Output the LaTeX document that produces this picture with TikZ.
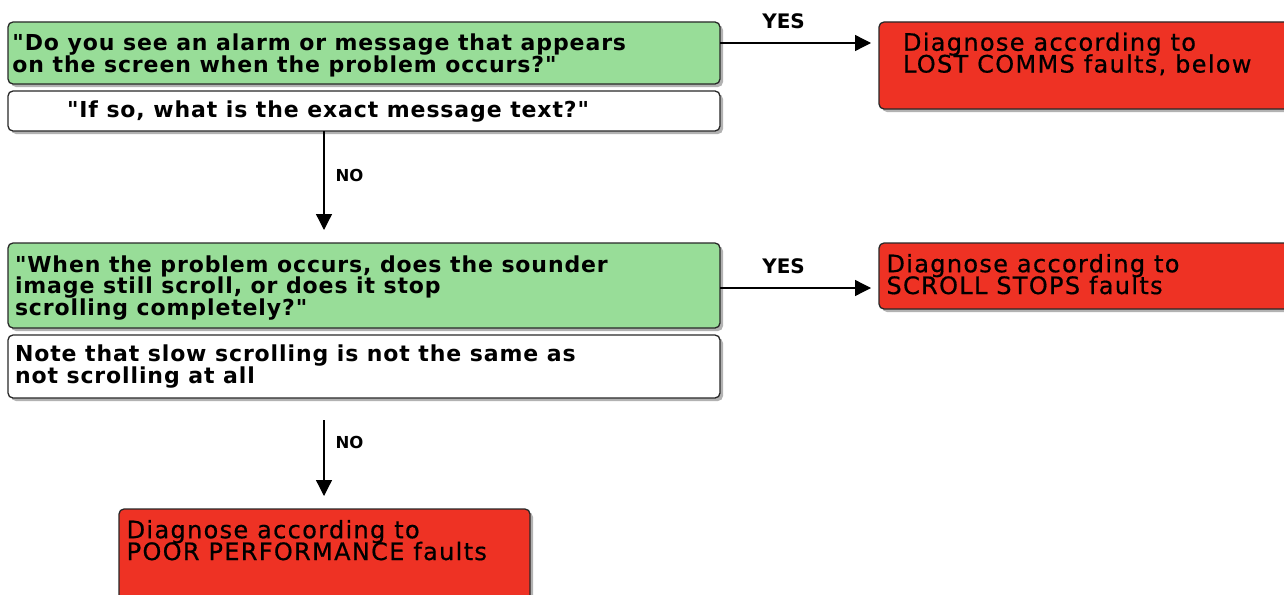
\documentclass[tikz,border=0pt]{standalone}
\usepackage{fontspec}
\setmainfont{DejaVu Sans}
\newfontfamily\qfont{DejaVu Sans}[LetterSpace=4.0]
\newfontfamily\rfont{DejaVu Sans}[LetterSpace=5.5,FakeBold=0.6]
\usetikzlibrary{shadows,arrows.meta}
\definecolor{qgreen}{RGB}{152,221,152}
\definecolor{dred}{RGB}{238,50,36}
\definecolor{edgec}{RGB}{40,40,40}
\newcommand{\bxt}[5]{\parbox[c][#1][t]{#2}{\lineskiplimit=-100pt\lineskip=0pt\vspace*{#3}\leftskip=#4\relax\rightskip=0pt plus 1fil\relax #5\par}}
\begin{document}
\begin{tikzpicture}[x=1pt,y=-1pt,
 box/.style={draw=edgec, line width=1.3pt, rounded corners=5pt, anchor=north west, inner sep=0pt, outer sep=0pt,
   drop shadow={shadow xshift=3pt,shadow yshift=-3pt,opacity=0.3,fill=black}},
 qbox/.style={box, fill=qgreen, font=\qfont\bfseries\fontsize{22}{21.8}\selectfont},
 nbox/.style={box, fill=white, font=\qfont\bfseries\fontsize{22}{21.8}\selectfont},
 rbox/.style={box, fill=dred, font=\rfont\fontsize{24}{21.8}\selectfont},
 arr/.style={line width=1.3pt, -{Triangle[length=16pt,width=16pt]}},
 ylbl/.style={font=\bfseries\fontsize{20}{20}\selectfont, anchor=base, inner sep=0pt},
 nlbl/.style={font=\bfseries\fontsize{16.5}{17}\selectfont, anchor=base west, inner sep=0pt}
]
\useasboundingbox (0,0) rectangle (1284,594);
\fill[white] (0,0) rectangle (1284,594);
\clip (0,0) rectangle (1284,594);

\node[qbox] (g1) at (8,22) {\bxt{62pt}{712pt}{11.5pt}{4.5pt}{"Do you see an alarm or message that appears\\on the screen when the problem occurs?"}};
\node[nbox] (w1) at (8,91) {\bxt{40pt}{712pt}{9.3pt}{59pt}{"If so, what is the exact message text?"}};
\node[rbox] (r1) at (879,22) {\bxt{87pt}{430pt}{10.5pt}{24pt}{Diagnose according to\\LOST COMMS faults, below}};
\node[qbox] (g2) at (8,243) {\bxt{85pt}{712pt}{12.3pt}{7pt}{"When the problem occurs, does the sounder\\image still scroll, or does it stop\\scrolling completely?"}};
\node[nbox] (w2) at (8,335) {\bxt{63pt}{712pt}{10pt}{7pt}{Note that slow scrolling is not the same as\\not scrolling at all}};
\node[rbox] (r2) at (879,243) {\bxt{66pt}{430pt}{11pt}{7.5pt}{Diagnose according to\\SCROLL STOPS faults}};
\node[rbox] (r3) at (119,509) {\bxt{100pt}{411pt}{11pt}{7.7pt}{Diagnose according to\\POOR PERFORMANCE faults}};

\draw[arr, shorten >=8pt] ([yshift=-21pt]g1.north east) -- node[ylbl, pos=.40, yshift=14.7pt]{YES} ([yshift=-21pt]r1.north west);
\draw[arr, shorten >=8pt] ([yshift=-45pt]g2.north east) -- node[ylbl, pos=.40, yshift=14.7pt]{YES} ([yshift=-45pt]r2.north west);
\draw[arr, shorten >=13pt] ([xshift=-40pt]w1.south) -- node[nlbl, pos=.453, xshift=11pt]{NO} ([xshift=-40pt]w1.south |- g2.north);
\draw[arr, shorten <=22pt, shorten >=13pt] ([xshift=-40pt]w2.south) -- node[nlbl, pos=.453, xshift=11pt]{NO} ([xshift=-40pt]w2.south |- r3.north);
\end{tikzpicture}
\end{document}
